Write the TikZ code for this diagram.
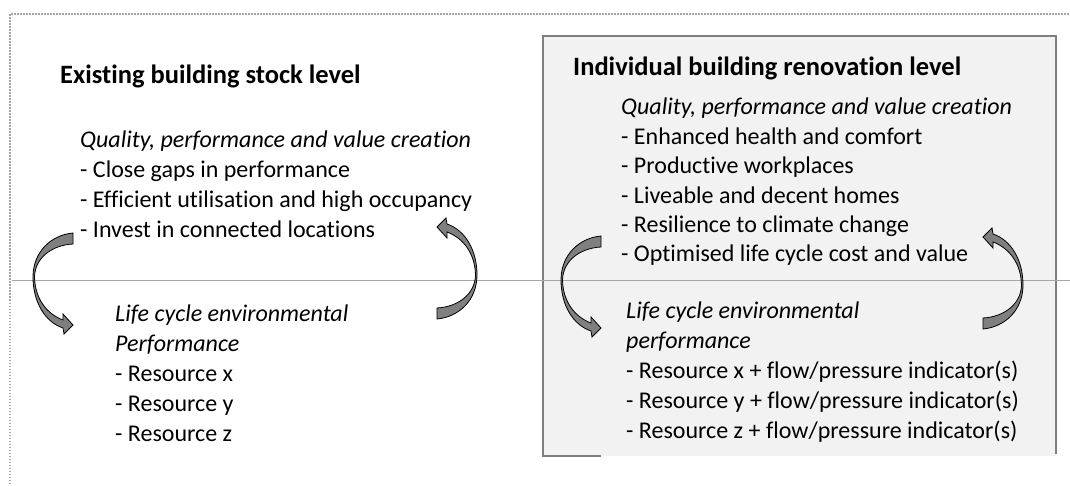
\documentclass[tikz,border=0pt]{standalone}
\usepackage{fontspec}
\setmainfont{Carlito}[Ligatures=NoCommon]
\usetikzlibrary{positioning}

\definecolor{boxfill}{HTML}{F2F2F2}
\definecolor{boxline}{HTML}{7F7F7F}
\definecolor{arrowfill}{HTML}{7F7F7F}
\definecolor{rulegray}{HTML}{A6A6A6}

\tikzset{
  txt/.style={anchor=base west, inner sep=0pt, font=\fontsize{24}{29}\selectfont},
  head/.style={txt, font=\fontsize{26.5}{31}\selectfont\bfseries},
  sub/.style={txt, font=\fontsize{24}{29}\selectfont\itshape},
  loop arrow/.pic={
    \draw[fill=arrowfill, line width=0.8pt]
      (40,-44) .. controls (18,-42) and (0,-25) .. (0,0)
      .. controls (0,25) and (12,45) .. (30,51) -- (31,57) -- (40,48) -- (30,37) -- (30,43)
      .. controls (14,37) and (2,22) .. (1.5,0)
      .. controls (2,-20) and (20,-32) .. (40,-33) -- cycle;
  }
}

\begin{document}
\begin{tikzpicture}[x=1pt, y=-1pt]
        \useasboundingbox (0,0) rectangle (1070,486);

        % Outer frame
        \draw[rulegray, line width=1.5pt, dash pattern=on 1.5pt off 1.5pt] (10,490) -- (10,14) -- (1075,14);

        % Renovation box
        \fill[boxfill] (543,36) rectangle (1056,456);
        \draw[boxline, line width=2.5pt] (601,456) -- (543,456) -- (543,36) -- (1056,36) -- (1056,454);

        % Divider
        \draw[rulegray, line width=1.2pt] (12,280.5) -- (1070,280.5);

        % Stock level
        \node[head] (stockTitle) at (60,84) {Existing building stock level};
        \node[sub] (stockValue) at (80,148) {Quality, performance and value creation};
        \foreach \t [count=\i] in {Close gaps in performance, Efficient utilisation and high occupancy, Invest in connected locations}
            \node[txt] (stockValue\i) at (80,148+30*\i) {- \t};
        \node[sub] (stockEnv) at (115,321) {Life cycle environmental};
        \node[sub] (stockEnvB) at (115,351) {Performance};
        \foreach \t [count=\i] in {x,y,z}
            \node[txt] (stockEnv\i) at (115,351+30*\i) {- Resource \t};

        % Renovation level
        \node[head] (renoTitle) at (573,76) {Individual building renovation level};
        \node[sub] (renoValue) at (621,115) {Quality, performance and value creation};
        \foreach \t [count=\i] in {Enhanced health and comfort, Productive workplaces, Liveable and decent homes, Resilience to climate change, Optimised life cycle cost and value}
            \node[txt] (renoValue\i) at (621,115+29.4*\i) {- \t};
        \node[sub] (renoEnv) at (626,318) {Life cycle environmental};
        \node[sub] (renoEnvB) at (626,348) {performance};
        \foreach \t [count=\i] in {x,y,z}
            \node[txt] (renoEnv\i) at (626,348+30*\i) {- Resource \t{} + flow/pressure indicator(s)};

        % Loop arrows
        \pic at (33,277) {loop arrow};
        \pic[rotate=180] at (477,275) {loop arrow};
        \pic at (561,280) {loop arrow};
        \pic[rotate=180] at (1023,285) {loop arrow};
\end{tikzpicture}
\end{document}
